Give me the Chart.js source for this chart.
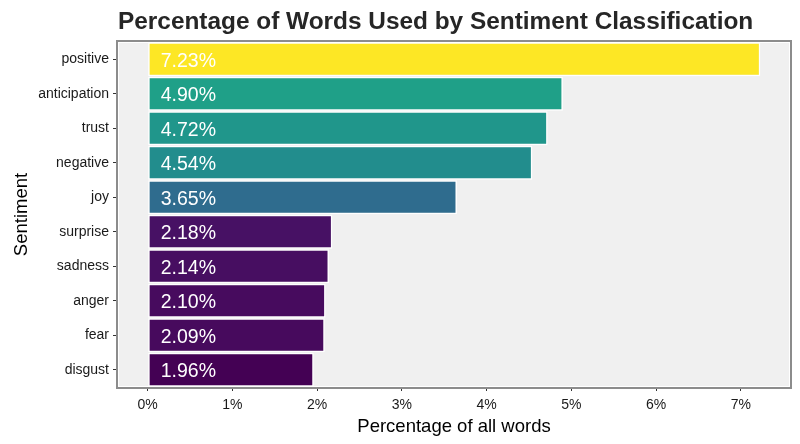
<!DOCTYPE html>
<html>
<head>
<meta charset="utf-8">
<script src="https://cdn.jsdelivr.net/npm/chart.js@4"></script>
<style>
  html, body { margin: 0; padding: 0; background: #fff; }
  #wrap { width: 800px; height: 444px; }
</style>
</head>
<body>
<div id="wrap"><canvas id="chart"></canvas></div>
<script>
// data

const sentiments = ['positive', 'anticipation', 'trust', 'negative', 'joy',
  'surprise', 'sadness', 'anger', 'fear', 'disgust']
const percents = [7.23, 4.90, 4.72, 4.54, 3.65, 2.18, 2.14, 2.10, 2.09, 1.96]
const xTicks = [0, 1, 2, 3, 4, 5, 6, 7]

// viridis fill, mapped to the value
const barColors = ['#FDE725', '#1FA088', '#20968B', '#228D8D', '#2F6C8E',
  '#471164', '#470E61', '#470B5E', '#470A5D', '#440154']

const FONT = "'Liberation Sans', Arial, sans-serif"
Chart.defaults.font.family = FONT
Chart.defaults.color = '#1a1a1a'

// grey panel with the ggplot-ish border
const panel = {
  id: 'panel',
  beforeDatasetsDraw(chart) {
    const { ctx, chartArea: a } = chart
    ctx.save()
    ctx.fillStyle = '#F0F0F0'
    ctx.fillRect(a.left, a.top, a.right - a.left, a.bottom - a.top)
    ctx.strokeStyle = '#8C8C8C'
    ctx.lineWidth = 2
    ctx.strokeRect(a.left - 1, a.top - 1, a.right - a.left + 2, a.bottom - a.top + 2)
    ctx.strokeStyle = '#FFFFFF'
    ctx.lineWidth = 1
    ctx.strokeRect(a.left + 0.5, a.top + 0.5, a.right - a.left - 1, a.bottom - a.top - 1)
    ctx.restore()
  }
}

// value text inside each bar + left aligned title
const labels = {
  id: 'labels',
  afterDatasetsDraw(chart) {
    const { ctx, scales } = chart
    const meta = chart.getDatasetMeta(0)
    const x = scales.x.getPixelForValue(0.48)
    ctx.save()
    ctx.font = '19.5px ' + FONT
    ctx.fillStyle = '#FFFFFF'
    ctx.textAlign = 'center'
    ctx.textBaseline = 'middle'
    meta.data.forEach((bar, i) => {
      ctx.fillText(percents[i].toFixed(2) + '%', x, bar.y + 2)
    })
    ctx.restore()
  },
  afterDraw(chart) {
    const { ctx, chartArea } = chart
    ctx.save()
    ctx.font = 'bold 24.4px ' + FONT
    ctx.fillStyle = '#262626'
    ctx.textAlign = 'left'
    ctx.textBaseline = 'alphabetic'
    ctx.fillText('Percentage of Words Used by Sentiment Classification', chartArea.left, 29)
    ctx.restore()
  }
}

new Chart(document.getElementById('chart'), {
  type: 'bar',
  data: {
    labels: sentiments,
    datasets: [{
      label: 'Percentage',
      data: percents,
      backgroundColor: barColors,
      borderColor: '#FFFFFF',
      borderWidth: 1.5,
      borderSkipped: false,
      categoryPercentage: 1,
      barPercentage: 0.98,
    }]
  },
  options: {
    indexAxis: 'y',
    responsive: true,
    maintainAspectRatio: false,
    animation: false,
    devicePixelRatio: 1,
    layout: {
      padding: { top: 42, right: 10, bottom: 0, left: 0 }
    },
    plugins: {
      legend: { display: false },
      tooltip: { enabled: false },
      title: { display: false },
    },
    scales: {
      x: {
        type: 'linear',
        min: -0.35,
        max: 7.58,
        afterBuildTicks: axis => { axis.ticks = xTicks.map(v => ({ value: v })) },
        afterFit: scale => { scale.height = 57 },
        grid: {
          drawOnChartArea: false,
          drawTicks: true,
          tickLength: 4,
          color: '#333333',
        },
        border: { display: false },
        ticks: {
          padding: 6,
          color: '#1a1a1a',
          font: { size: 14 },
          callback: v => v + '%',
        },
        title: {
          display: true,
          text: 'Percentage of all words',
          color: '#000000',
          font: { size: 18.5 },
          padding: { top: 0, bottom: 6 },
        },
      },
      y: {
        offset: true,
        afterFit: scale => { scale.width = 118 },
        grid: {
          drawOnChartArea: false,
          drawTicks: true,
          tickLength: 5,
          offset: false,
          color: '#333333',
        },
        border: { display: false },
        ticks: {
          padding: 4,
          color: '#1a1a1a',
          font: { size: 14 },
        },
        title: {
          display: true,
          text: 'Sentiment',
          color: '#000000',
          font: { size: 18.5 },
          padding: { top: 11, bottom: 0 },
        },
      },
    },
  },
  plugins: [panel, labels],
})
</script>
</body>
</html>
